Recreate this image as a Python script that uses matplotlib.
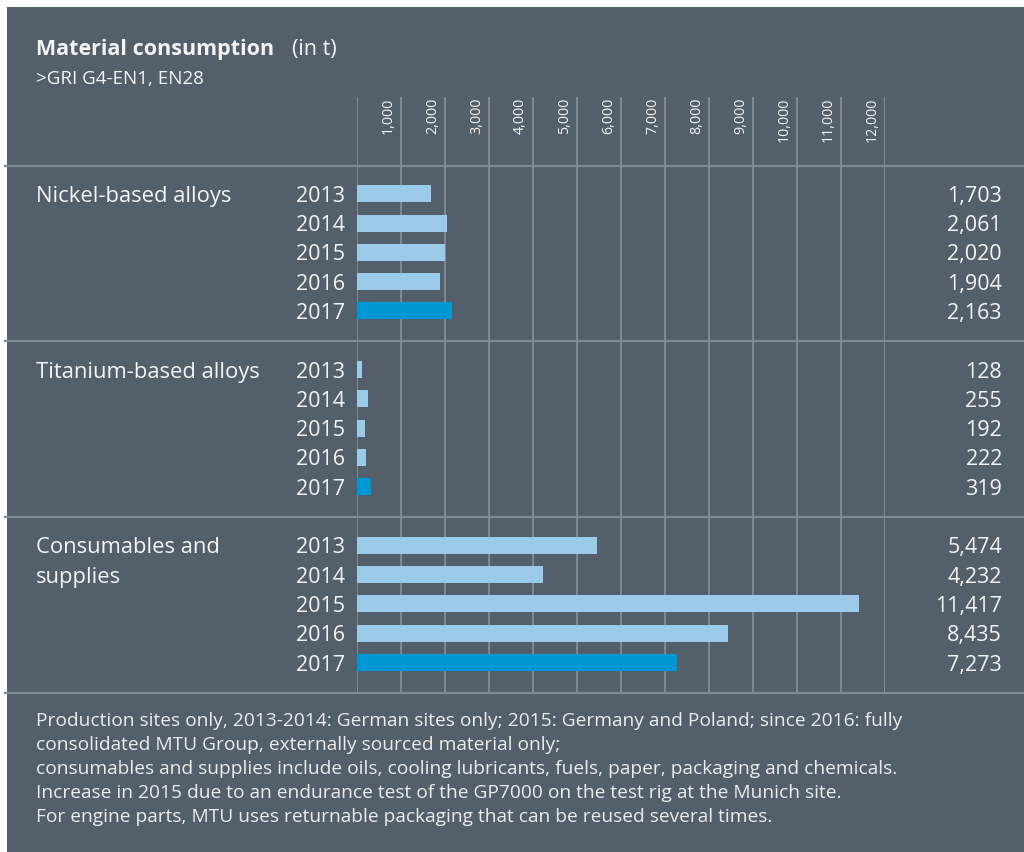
import matplotlib
matplotlib.use("Agg")
import matplotlib.pyplot as plt
from matplotlib.patches import Rectangle
from matplotlib.transforms import blended_transform_factory, ScaledTranslation

# ---------------- data ----------------
categories = ["Nickel-based alloys", "Titanium-based alloys", "Consumables and\nsupplies"]
years = ["2013", "2014", "2015", "2016", "2017"]
nickel = [1703, 2061, 2020, 1904, 2163]
titanium = [128, 255, 192, 222, 319]
consumables = [5474, 4232, 11417, 8435, 7273]
series = [nickel, titanium, consumables]
ticks = [0, 1000, 2000, 3000, 4000, 5000, 6000, 7000, 8000, 9000, 10000, 11000, 12000]
title = "Material consumption"
unit = "(in t)"
subtitle = ">GRI G4-EN1, EN28"
footnote = [
    "Production sites only, 2013-2014: German sites only; 2015: Germany and Poland; since 2016: fully",
    "consolidated MTU Group, externally sourced material only;",
    "consumables and supplies include oils, cooling lubricants, fuels, paper, packaging and chemicals.",
    "Increase in 2015 due to an endurance test of the GP7000 on the test rig at the Munich site.",
    "For engine parts, MTU uses returnable packaging that can be reused several times.",
]

# ---------------- style ----------------
W, H = 1024, 852
BG = "#535f6b"
GRID = "#87919b"
SEP = "#7f8a95"
LIGHT = "#9ccbea"
DARK = "#0097d5"
TXT = "#f4f4f4"
FONT = ["Open Sans", "DejaVu Sans"]

def fx(px):
    return px / W

def fy(py):
    return 1 - py / H

fig = plt.figure(figsize=(W / 100, H / 100), dpi=100, facecolor="white")
fig.patches.append(Rectangle((fx(7), 0), 1 - fx(7), fy(7), transform=fig.transFigure,
                             facecolor=BG, edgecolor="none", zorder=-5))

# plot area
x0_px, x1_px = 356.5, 884.5
top_px, bot_px = 97, 694
ax = fig.add_axes([fx(x0_px), fy(bot_px), fx(x1_px) - fx(x0_px), fy(top_px) - fy(bot_px)])
ax.set_facecolor("none")
for s in ax.spines.values():
    s.set_visible(False)
ax.set_xticks([])
ax.set_yticks([])

pitch = 29.3          # px per row
first_row_px = 193.7  # centre of first bar
group_rows = 6
ax.set_xlim(0, 12000)
ax.set_ylim((bot_px - first_row_px) / pitch, (top_px - first_row_px) / pitch)

# gridlines
for t in ticks:
    ax.axvline(t, color=GRID, lw=1.2, zorder=1)

# separators across the whole panel
sep_tr = blended_transform_factory(fig.transFigure, ax.transData)
for g in range(len(categories) + 1):
    ysep = g * group_rows - 0.96
    ax.plot([fx(5), 1], [ysep, ysep], color=SEP, lw=1.6, transform=sep_tr,
            clip_on=False, zorder=2)

# tick labels (rotated, left of gridline)
lab_tr = ax.transData + ScaledTranslation(-12 / 100, 0, fig.dpi_scale_trans)
ytop = (top_px + 1 - first_row_px) / pitch
for t in ticks[1:]:
    ax.text(t, ytop, f"{t:,}", rotation=90, ha="center", va="top", color=TXT,
            fontsize=10.3, family=FONT, transform=lab_tr)

# bars and labels
shift = ScaledTranslation(0, -2.5 / 100, fig.dpi_scale_trans)
txt_tr = blended_transform_factory(fig.transFigure, ax.transData) + shift
for g, (cat, vals) in enumerate(zip(categories, series)):
    ys = [g * group_rows + i for i in range(len(years))]
    colors = [LIGHT] * (len(years) - 1) + [DARK]
    ax.barh(ys, vals, height=17 / pitch, color=colors, zorder=3)
    for k, line in enumerate(cat.split("\n")):
        ax.text(fx(36), ys[k], line, ha="left", va="center", color=TXT,
                fontsize=15.8, family=FONT, transform=txt_tr)
    for y, yr, v in zip(ys, years, vals):
        ax.text(fx(345), y, yr, ha="right", va="center", color=TXT,
                fontsize=15.5, family=FONT, transform=txt_tr)
        ax.text(fx(1002), y, f"{v:,}", ha="right", va="center", color=TXT,
                fontsize=15.5, family=FONT, transform=txt_tr)

# titles
fig.text(fx(36), fy(54.5), title, ha="left", va="baseline", color=TXT,
         fontsize=15.5, family=FONT, fontweight="bold")
fig.text(fx(292), fy(54.5), unit, ha="left", va="baseline", color=TXT,
         fontsize=15.5, family=FONT)
fig.text(fx(36), fy(84), subtitle, ha="left", va="baseline", color=TXT,
         fontsize=13.5, family=FONT)

# footnote
for i, line in enumerate(footnote):
    fig.text(fx(36), fy(721 + 24 * i), line, ha="left", va="center", color="#ececec",
             fontsize=13.8, family=FONT)

fig.savefig("out.png", dpi=100, facecolor="white")
